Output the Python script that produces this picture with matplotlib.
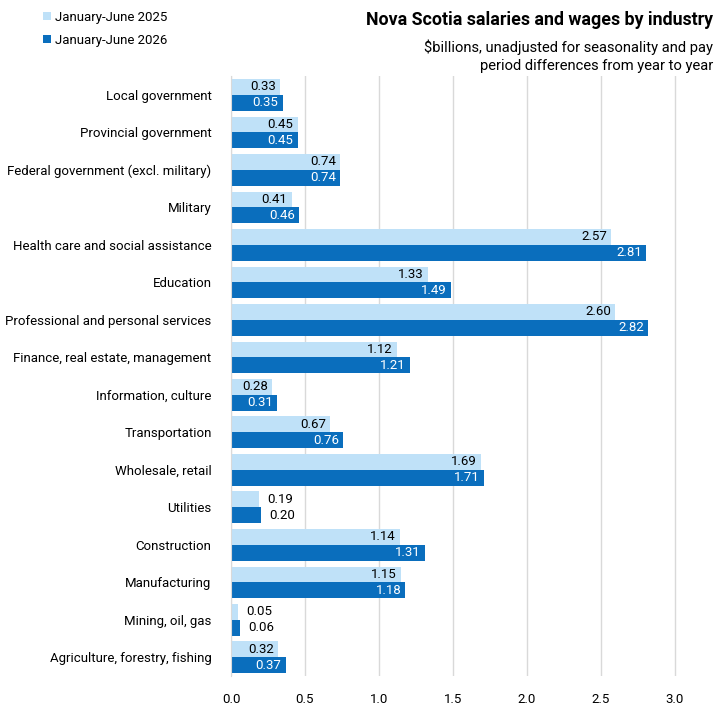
import matplotlib.pyplot as plt
import numpy as np

industries = ['Local government', 'Provincial government', 'Federal government (excl. military)',
              'Military', 'Health care and social assistance', 'Education',
              'Professional and personal services', 'Finance, real estate, management',
              'Information, culture', 'Transportation', 'Wholesale, retail', 'Utilities',
              'Construction', 'Manufacturing', 'Mining, oil, gas', 'Agriculture, forestry, fishing']
jun2025 = [0.33, 0.45, 0.74, 0.41, 2.57, 1.33, 2.60, 1.12, 0.28, 0.67, 1.69, 0.19, 1.14, 1.15, 0.05, 0.32]
jun2026 = [0.35, 0.45, 0.74, 0.46, 2.81, 1.49, 2.82, 1.21, 0.31, 0.76, 1.71, 0.20, 1.31, 1.18, 0.06, 0.37]

light = '#BFE1F8'
dark = '#0A6EBD'

plt.rcParams['font.family'] = ['Roboto', 'DejaVu Sans']

fig = plt.figure(figsize=(7.21, 7.21), dpi=100)
ax = fig.add_axes([231/721, 45/721, 482/721, 600/721])

y = np.arange(len(industries))
h = 0.42
b1 = ax.barh(y - h/2, jun2025, height=h, color=light, label='January-June 2025')
b2 = ax.barh(y + h/2, jun2026, height=h, color=dark, label='January-June 2026')

# value labels: inside end, outside for short bars
for bars, vals, col in [(b1, jun2025, 'black'), (b2, jun2026, 'white')]:
    for bar, v in zip(bars, vals):
        yc = bar.get_y() + bar.get_height()/2
        if v < 0.25:
            ax.annotate(f'{v:.2f}', (v, yc), xytext=(6, 0), textcoords='offset points',
                        ha='left', va='center', fontsize=9.5, color='black')
        else:
            ax.annotate(f'{v:.2f}', (v, yc), xytext=(-3, 0), textcoords='offset points',
                        ha='right', va='center', fontsize=9.5, color=col)

ax.set_yticks(y)
ax.set_yticklabels(industries, fontsize=9.5)
ax.set_ylim(len(industries) - 0.5, -0.5)
ax.set_xlim(0, 3.26)
ax.set_xticks(np.arange(0, 3.01, 0.5))
ax.set_xticklabels([f'{t:.1f}' for t in np.arange(0, 3.01, 0.5)], fontsize=9.5)
ax.tick_params(length=0, pad=12)
ax.tick_params(axis='y', pad=14)
ax.grid(axis='x', color='#D9D9D9', linewidth=1)
ax.set_axisbelow(True)
for s in ['top', 'right', 'bottom']:
    ax.spines[s].set_visible(False)
ax.spines['left'].set_color('#D9D9D9')

fig.legend(handles=[b1, b2], loc='upper left', bbox_to_anchor=(31/721, 1 + 1/721),
           frameon=False, fontsize=9.5, handlelength=0.6, handleheight=0.6,
           handletextpad=0.3, labelspacing=0.75)

fig.text(713/721, 1 - 20/721, 'Nova Scotia salaries and wages by industry',
         ha='right', va='center', fontsize=12.8, fontweight='bold')
fig.text(713/721, 1 - 56/721, '$billions, unadjusted for seasonality and pay\nperiod differences from year to year',
         ha='right', va='center', fontsize=10.6, linespacing=1.35)

plt.savefig('out.png', dpi=100)
